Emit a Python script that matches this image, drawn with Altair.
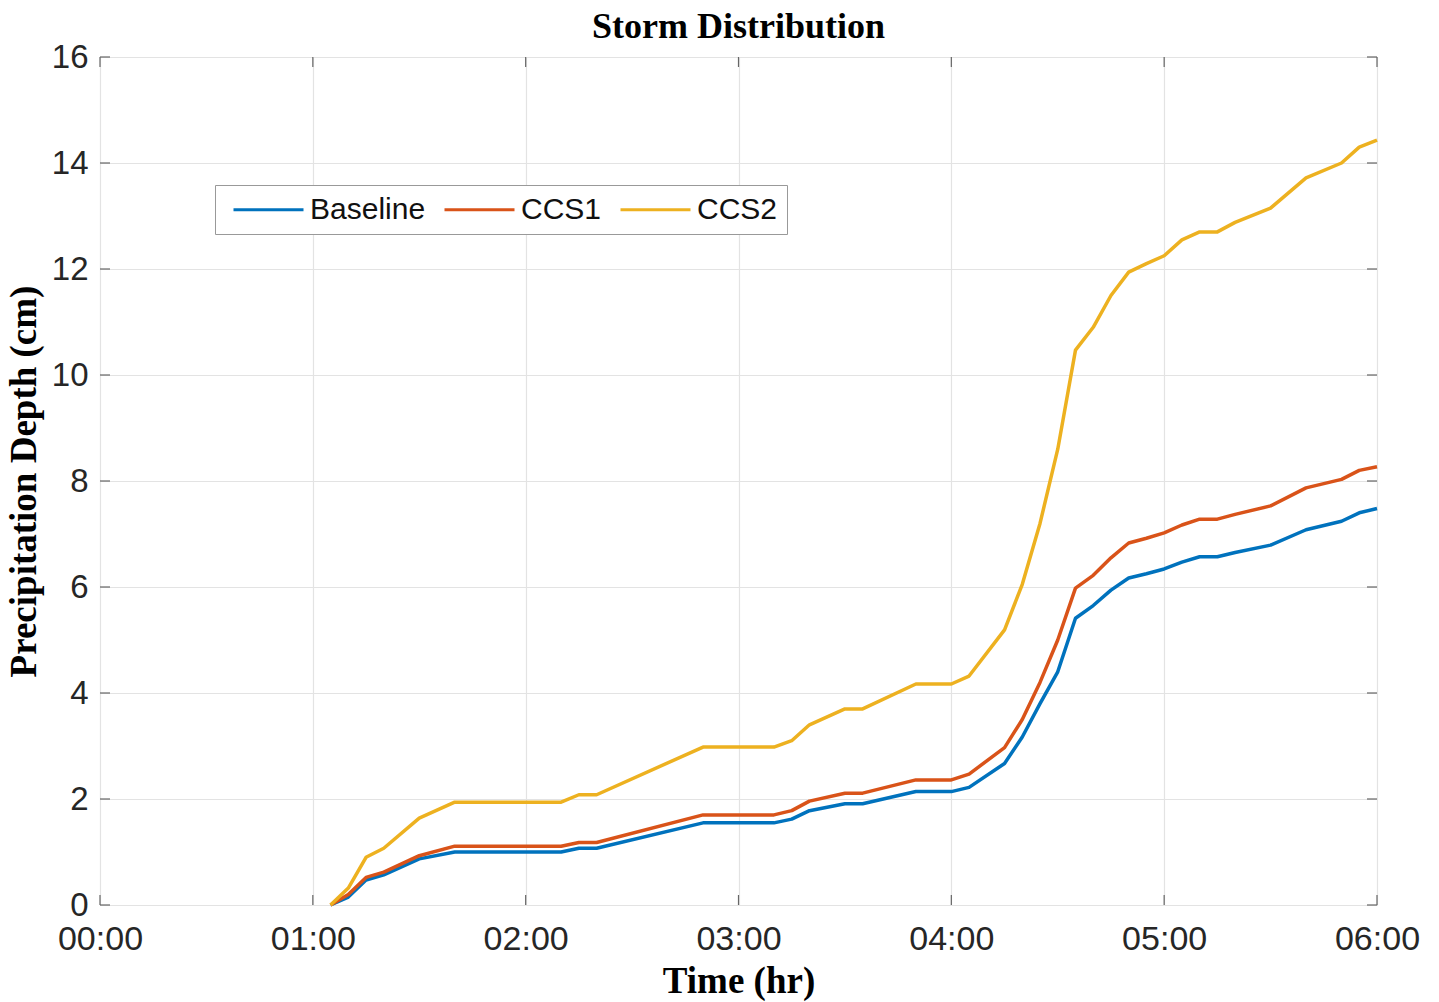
import altair as alt
import pandas as pd

# time in minutes
minutes = [65, 70, 75, 80, 90, 100, 130, 135, 140, 170, 190, 195, 200, 210, 215,
           230, 240, 245, 255, 260, 265, 270, 275, 280, 285, 290, 295, 300, 305,
           310, 315, 320, 330, 340, 350, 355, 360]

baseline = [0, 0.15, 0.47, 0.57, 0.87, 1.0, 1.0, 1.07, 1.07, 1.55, 1.55, 1.62, 1.78,
            1.91, 1.91, 2.14, 2.14, 2.22, 2.67, 3.17, 3.8, 4.4, 5.41, 5.65, 5.94,
            6.17, 6.25, 6.34, 6.47, 6.57, 6.57, 6.65, 6.79, 7.08, 7.24, 7.4, 7.48]

ccs1 = [0, 0.2, 0.52, 0.62, 0.93, 1.11, 1.11, 1.18, 1.18, 1.7, 1.7, 1.78, 1.96,
        2.11, 2.11, 2.36, 2.36, 2.47, 2.97, 3.5, 4.2, 5.0, 5.98, 6.22, 6.55,
        6.83, 6.92, 7.02, 7.17, 7.28, 7.28, 7.37, 7.53, 7.87, 8.03, 8.2, 8.27]

ccs2 = [0, 0.32, 0.9, 1.07, 1.64, 1.94, 1.94, 2.08, 2.08, 2.98, 2.98, 3.1, 3.4,
        3.7, 3.7, 4.17, 4.17, 4.32, 5.19, 6.05, 7.2, 8.6, 10.47, 10.9, 11.5,
        11.94, 12.1, 12.25, 12.55, 12.7, 12.7, 12.88, 13.15, 13.72, 14.0, 14.3, 14.43]

series_names = ["Baseline", "CCS1", "CCS2"]
series_colors = ["#0072BD", "#D95319", "#EDB120"]

x_ticks = [0, 1, 2, 3, 4, 5, 6]
y_ticks = [0, 2, 4, 6, 8, 10, 12, 14, 16]

chart_title = ["Storm Distribution"]

rows = []
for name, vals in zip(series_names, [baseline, ccs1, ccs2]):
    for m, v in zip(minutes, vals):
        rows.append({"hour": m / 60.0, "depth": v, "series": name})
df = pd.DataFrame(rows)

W, H = 1277, 848

xscale = alt.Scale(domain=[0, 6], nice=False, zero=False)
yscale = alt.Scale(domain=[0, 16], nice=False)

lines = alt.Chart(df).mark_line(strokeWidth=3.5, strokeJoin="round").encode(
    x=alt.X("hour:Q", scale=xscale,
            axis=alt.Axis(values=x_ticks, labelExpr="'0' + datum.value + ':00'",
                          title="Time (hr)", titleFont="Liberation Serif",
                          titleFontSize=37, titleFontWeight="bold", titleColor="#000",
                          titlePadding=7,
                          labelFont="Liberation Sans", labelFontSize=34, labelColor="#262626",
                          labelPadding=17, labelFlush=False, labelOverlap=False,
                          ticks=False, domain=False,
                          grid=True, gridColor="#e3e3e3", gridWidth=1.2)),
    y=alt.Y("depth:Q", scale=yscale,
            axis=alt.Axis(values=y_ticks, title="Precipitation Depth (cm)",
                          titleFont="Liberation Serif", titleFontSize=37,
                          titleFontWeight="bold", titleColor="#000", titlePadding=8,
                          labelFont="Liberation Sans", labelFontSize=33, labelColor="#262626",
                          labelPadding=12, labelFlush=False, labelOverlap=False,
                          ticks=False, domain=False,
                          grid=True, gridColor="#e3e3e3", gridWidth=1.2)),
    color=alt.Color("series:N",
                    scale=alt.Scale(domain=series_names, range=series_colors),
                    legend=alt.Legend(orient="none", legendX=115, legendY=128,
                                      direction="horizontal", title=None,
                                      symbolType="M-2.5,0H2.5", symbolSize=784,
                                      symbolStrokeWidth=3, symbolOffset=29,
                                      labelFont="Liberation Sans",
                                      labelFontSize=30, labelColor="#111",
                                      labelOffset=26, columnPadding=9,
                                      padding=9, strokeColor="#999",
                                      fillColor="white", cornerRadius=0)),
)

xt = pd.DataFrame({"hour": x_ticks})
yt = pd.DataFrame({"depth": y_ticks})
tick_color = "#666"

xb = alt.Chart(xt).mark_rule(color=tick_color, strokeWidth=1.2).encode(
    x=alt.X("hour:Q", scale=xscale), y=alt.value(H), y2=alt.value(H - 10))
xtop = alt.Chart(xt).mark_rule(color=tick_color, strokeWidth=1.2).encode(
    x=alt.X("hour:Q", scale=xscale), y=alt.value(0), y2=alt.value(10))
yl = alt.Chart(yt).mark_rule(color=tick_color, strokeWidth=1.2).encode(
    y=alt.Y("depth:Q", scale=yscale), x=alt.value(0), x2=alt.value(10))
yr = alt.Chart(yt).mark_rule(color=tick_color, strokeWidth=1.2).encode(
    y=alt.Y("depth:Q", scale=yscale), x=alt.value(W), x2=alt.value(W - 10))

title_mark = alt.Chart(pd.DataFrame({"t": chart_title})).mark_text(
    font="Liberation Serif", fontSize=36, fontWeight="bold", color="#000",
    align="center", baseline="alphabetic").encode(
    text="t:N", x=alt.value(W / 2), y=alt.value(-19))

chart = alt.layer(xb, xtop, yl, yr, lines, title_mark).properties(
    width=W, height=H,
    autosize=alt.AutoSizeParams(type="none"),
    padding={"left": 100, "top": 57, "right": 62, "bottom": 97},
).configure_view(stroke="#808080", strokeWidth=1.5).configure(background="white")

chart.save("out.html", embed_options={"renderer": "svg", "actions": False})
